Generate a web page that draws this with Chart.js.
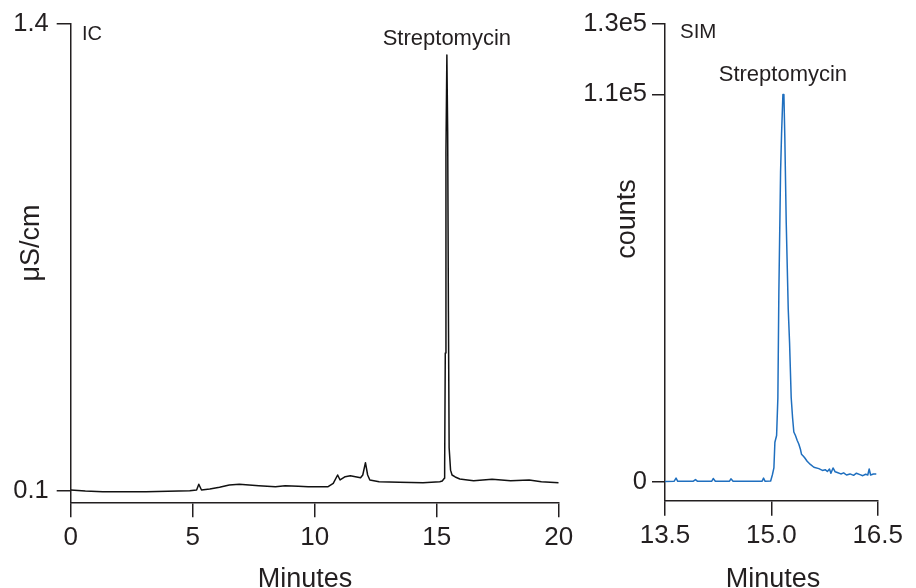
<!DOCTYPE html>
<html>
<head>
<meta charset="utf-8">
<script src="https://cdn.jsdelivr.net/npm/chart.js@4.4.1/dist/chart.umd.min.js"></script>
<style>
  html, body { margin: 0; padding: 0; background: #fff; width: 916px; height: 588px; overflow: hidden; }
  canvas { position: absolute; top: 0; }
  #ic { left: 0; }
  #sim { left: 580px; }
</style>
</head>
<body>
<canvas id="ic" width="580" height="588"></canvas>
<canvas id="sim" width="336" height="588"></canvas>
<script>
// Conductivity trace (IC detector), minutes vs µS/cm
const icMinutes = [0, 0.6, 1.31, 3.09, 4.88, 5.16, 5.25, 5.36, 5.70, 6.10, 6.50, 6.91, 7.71, 8.39, 8.79, 9.33, 9.73,
  10.55, 10.76, 10.94, 11.04, 11.25, 11.46, 11.88, 11.97, 12.08, 12.17, 12.26, 12.64, 13.47, 14.44,
  15.125, 15.227, 15.314, 15.326, 15.352, 15.379, 15.417, 15.45, 15.48, 15.51, 15.568, 15.629, 15.758, 15.947,
  16.26, 16.515, 17.27, 18.03, 18.79, 19.29, 20.0];
const icConductivity = [0.1028, 0.1000, 0.0981, 0.0981, 0.1008, 0.1028, 0.1187, 0.1028, 0.1056, 0.1103, 0.1167, 0.1187, 0.1148, 0.1120, 0.1148, 0.1131, 0.1120,
  0.1120, 0.1214, 0.1445, 0.1306, 0.1398, 0.1426, 0.1370, 0.1445, 0.1788, 0.1445, 0.1306, 0.1259, 0.1242, 0.1231,
  0.1259, 0.1278, 0.1354, 0.1677, 0.484, 1.041, 1.314, 1.10, 0.60, 0.22, 0.158, 0.1445, 0.139, 0.1334,
  0.1306, 0.1287, 0.1326, 0.1287, 0.1306, 0.1259, 0.1231];

// Selected-ion monitoring trace (MS detector), minutes vs counts
const simMinutes = [13.50, 13.63, 13.656, 13.68, 13.90, 13.93, 13.96, 14.16, 14.18, 14.21, 14.41, 14.43, 14.46, 14.70, 14.87, 14.89, 14.91, 14.99,
  15.014, 15.036, 15.05, 15.074, 15.092, 15.106, 15.13, 15.144, 15.163, 15.177, 15.19, 15.21, 15.238, 15.257, 15.28, 15.30,
  15.317, 15.34, 15.365, 15.387, 15.41, 15.425, 15.449, 15.47, 15.505, 15.55, 15.60, 15.67, 15.72, 15.76, 15.79, 15.82,
  15.84, 15.87, 15.90, 15.93, 15.98, 16.02, 16.06, 16.11, 16.16, 16.20, 16.25, 16.29, 16.33, 16.36, 16.38, 16.40, 16.44, 16.48];
const simCounts = [150, 250, 1100, 200, 250, 700, 200, 250, 1000, 200, 250, 900, 200, 250, 250, 1100, 250, 300,
  2000, 4000, 11300, 13200, 23900, 54000, 88000, 98800, 110000, 110000, 97800, 73500, 49200, 39500, 23900, 18100,
  14200, 13200, 11800, 10800, 9300, 7900, 7400, 6900, 5900, 5000, 4200, 3800, 3300, 3500, 3000, 3700,
  2500, 4000, 2900, 2700, 2300, 2600, 2000, 2300, 1900, 2500, 2100, 1800, 2200, 2000, 3700, 2000, 2300, 2300];

// Axis ticks and their labels
const icTimeTicks = [0, 5, 10, 15, 20];
const icTimeLabels = ['0', '5', '10', '15', '20'];
const icValueTicks = [0.1, 1.4];
const icValueLabels = ['0.1', '1.4'];
const simTimeTicks = [13.5, 15.0, 16.5];
const simTimeLabels = ['13.5', '15.0', '16.5'];
const simValueTicks = [0, 110000, 130000];
const simValueLabels = ['0', '1.1e5', '1.3e5'];

const FONT = "'Liberation Sans', Arial, Helvetica, sans-serif";
const INK = '#231f20';

// Draws the corner tag, the peak name above the tallest point, and the axis titles
const chartText = {
  id: 'chartText',
  afterDraw(chart, args, o) {
    const ctx = chart.ctx;
    const area = chart.chartArea;
    ctx.save();
    ctx.fillStyle = INK;
    ctx.font = o.tagSize + 'px ' + FONT;
    ctx.textAlign = 'left';
    ctx.textBaseline = 'alphabetic';
    ctx.fillText(o.tag, area.left + o.tagDx, area.top + o.tagDy);

    const pts = chart.data.datasets[0].data;
    let top = pts[0];
    pts.forEach(p => { if (p.y > top.y) top = p; });
    const px = chart.scales.x.getPixelForValue(top.x);
    const py = chart.scales.y.getPixelForValue(top.y);
    ctx.font = o.peakSize + 'px ' + FONT;
    ctx.textAlign = 'center';
    ctx.fillText(o.peakLabel, px, py - o.peakGap);

    ctx.font = o.titleSize + 'px ' + FONT;
    ctx.fillText(o.xTitle, o.xTitleX, o.xTitleY);
    ctx.translate(o.yTitleX, o.yTitleY);
    ctx.rotate(-Math.PI / 2);
    ctx.textBaseline = 'middle';
    ctx.fillText(o.yTitle, 0, 0);
    ctx.restore();
  }
};

function toPoints(xs, ys) {
  return xs.map((x, i) => ({ x: x, y: ys[i] }));
}

function axis(cfg) {
  return {
    type: 'linear',
    min: cfg.min,
    max: cfg.max,
    afterBuildTicks: s => { s.ticks = cfg.ticks.map(v => ({ value: v })); },
    afterFit: s => { if (cfg.width !== undefined) s.width = cfg.width; if (cfg.height !== undefined) s.height = cfg.height; },
    ticks: {
      autoSkip: false,
      maxRotation: 0,
      padding: cfg.padding,
      color: INK,
      font: { family: FONT, size: cfg.fontSize },
      callback: v => cfg.labels[cfg.ticks.indexOf(v)]
    },
    grid: { drawOnChartArea: false, drawTicks: true, tickLength: cfg.tickLength, color: INK, lineWidth: 1.5 },
    border: { display: true, color: INK, width: 1.5 }
  };
}

Chart.defaults.font.family = FONT;

new Chart(document.getElementById('ic'), {
  type: 'line',
  data: {
    datasets: [{
      data: toPoints(icMinutes, icConductivity),
      borderColor: '#111111',
      borderWidth: 1.5,
      borderJoinStyle: 'round',
      pointRadius: 0,
      tension: 0,
      fill: false
    }]
  },
  options: {
    responsive: false,
    animation: false,
    devicePixelRatio: 1,
    layout: { padding: { left: 0, top: 24, right: 21.3, bottom: 0 } },
    plugins: {
      legend: { display: false },
      tooltip: { enabled: false },
      chartText: {
        tag: 'IC', tagSize: 20, tagDx: 11.3, tagDy: 16,
        peakLabel: 'Streptomycin', peakSize: 22, peakGap: 10,
        titleSize: 27,
        xTitle: 'Minutes', xTitleX: 305, xTitleY: 586.5,
        yTitle: 'μS/cm', yTitleX: 32, yTitleY: 243
      }
    },
    scales: {
      x: axis({ min: 0, max: 20, ticks: icTimeTicks, labels: icTimeLabels, padding: 5, tickLength: 15, height: 85.7, fontSize: 26 }),
      y: axis({ min: 0.0685, max: 1.4, ticks: icValueTicks, labels: icValueLabels, padding: 8, tickLength: 14, width: 70.7, fontSize: 25.5 })
    }
  },
  plugins: [chartText]
});

new Chart(document.getElementById('sim'), {
  type: 'line',
  data: {
    datasets: [{
      data: toPoints(simMinutes, simCounts),
      borderColor: '#1f6fbf',
      borderWidth: 1.5,
      borderJoinStyle: 'round',
      pointRadius: 0,
      tension: 0,
      fill: false
    }]
  },
  options: {
    responsive: false,
    animation: false,
    devicePixelRatio: 1,
    layout: { padding: { left: 0, top: 24, right: 38.3, bottom: 0 } },
    plugins: {
      legend: { display: false },
      tooltip: { enabled: false },
      chartText: {
        tag: 'SIM', tagSize: 20.5, tagDx: 15, tagDy: 14,
        peakLabel: 'Streptomycin', peakSize: 22, peakGap: 13,
        titleSize: 27,
        xTitle: 'Minutes', xTitleX: 193, xTitleY: 587,
        yTitle: 'counts', yTitleX: 48, yTitleY: 219
      }
    },
    scales: {
      x: axis({ min: 13.5, max: 16.5, ticks: simTimeTicks, labels: simTimeLabels, padding: 5, tickLength: 15, height: 87.3, fontSize: 26 }),
      y: axis({ min: -5300, max: 130000, ticks: simValueTicks, labels: simValueLabels, padding: 5, tickLength: 13, width: 85, fontSize: 25.5 })
    }
  },
  plugins: [chartText]
});
</script>
</body>
</html>
